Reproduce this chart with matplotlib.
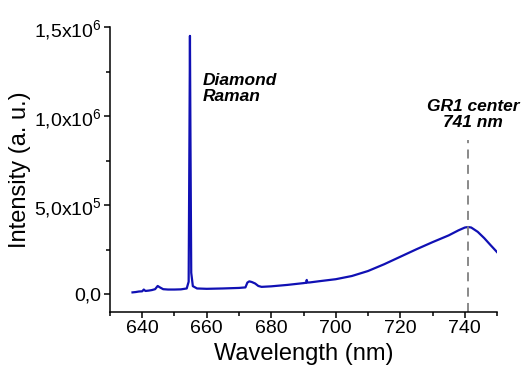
import matplotlib
matplotlib.use('Agg')
import matplotlib.pyplot as plt
from matplotlib.ticker import MultipleLocator, FixedLocator

plt.rcParams['font.family'] = ['Liberation Sans', 'DejaVu Sans']
plt.rcParams['mathtext.fontset'] = 'custom'
plt.rcParams['mathtext.rm'] = 'Liberation Sans'
plt.rcParams['mathtext.it'] = 'Liberation Sans:italic'

# spectrum
wavelength = [637, 638, 639, 640, 640.5, 641, 642, 643, 644, 644.8, 645.5, 646.5,
              648, 650, 652, 653.8, 654.4, 654.65, 654.8, 654.95, 655.2, 655.7, 657,
              660, 665, 670, 672, 672.6, 673.2, 674, 675, 676, 677, 680, 685,
              690, 690.8, 691, 691.2, 692, 695, 700, 705, 710, 715, 720, 725,
              730, 735, 738, 740, 741, 742, 744, 746, 748, 750]
intensity = [1.0e4, 1.2e4, 1.5e4, 1.6e4, 2.6e4, 1.8e4, 2.0e4, 2.3e4, 2.8e4, 4.6e4,
             3.8e4, 2.8e4, 2.6e4, 2.6e4, 2.7e4, 3.2e4, 7.0e4, 9.0e5, 1.45e6,
             9.0e5, 1.2e5, 4.5e4, 3.2e4, 3.0e4, 3.2e4, 3.5e4, 3.8e4, 6.5e4,
             7.2e4, 6.8e4, 6.0e4, 4.6e4, 4.1e4, 4.4e4, 5.2e4, 6.2e4, 6.4e4,
             8.0e4, 6.5e4, 6.6e4, 7.3e4, 8.4e4, 1.02e5, 1.3e5, 1.68e5, 2.1e5,
             2.52e5, 2.92e5, 3.3e5, 3.58e5, 3.74e5, 3.77e5, 3.74e5, 3.5e5,
             3.15e5, 2.75e5, 2.36e5]

gr1_center = 741
y_ticks = [0, 5e5, 1e6, 1.5e6]
y_ticklabels = ['0,0', r'5,0x10$^5$', r'1,0x10$^6$', r'1,5x10$^6$']

fig = plt.figure(figsize=(5.26, 3.8), dpi=100)
ax = fig.add_axes([0.209, 0.179, 0.736, 0.75])

ax.plot(wavelength, intensity, color='#1010b4', lw=1.6)
ax.axvline(gr1_center, ymax=0.603, color='#808080', lw=1.3, ls=(0, (5, 3.5)))

ax.set_xlim(630, 750)
ax.set_ylim(-1.0e5, 1.5e6)
ax.xaxis.set_major_locator(MultipleLocator(20))
ax.xaxis.set_minor_locator(MultipleLocator(10))
ax.yaxis.set_major_locator(FixedLocator(y_ticks))
ax.yaxis.set_minor_locator(MultipleLocator(2.5e5))
ax.set_yticklabels(y_ticklabels)
ax.xaxis.set_major_formatter(plt.FuncFormatter(lambda v, p: '%d' % v))

for s in ['top', 'right']:
    ax.spines[s].set_visible(False)
for s in ['left', 'bottom']:
    ax.spines[s].set_linewidth(1.1)
ax.tick_params(which='major', direction='out', length=4, width=1.1, labelsize=14, pad=2)
ax.tick_params(which='minor', direction='out', length=3, width=1.1)

ax.set_xlabel('Wavelength (nm)', fontsize=17, labelpad=4)
ax.set_ylabel('Intensity (a. u.)', fontsize=17, labelpad=2)

ax.text(658.7, 1.24e6, 'Diamond\nRaman', fontsize=12.5, fontweight='bold',
        fontstyle='italic', ha='left', va='top', linespacing=1.1)
ax.text(742.5, 9.2e5, 'GR1 center\n741 nm', fontsize=12.5, fontweight='bold',
        fontstyle='italic', ha='center', va='bottom', linespacing=1.1)

fig.savefig('out.png', dpi=100)
